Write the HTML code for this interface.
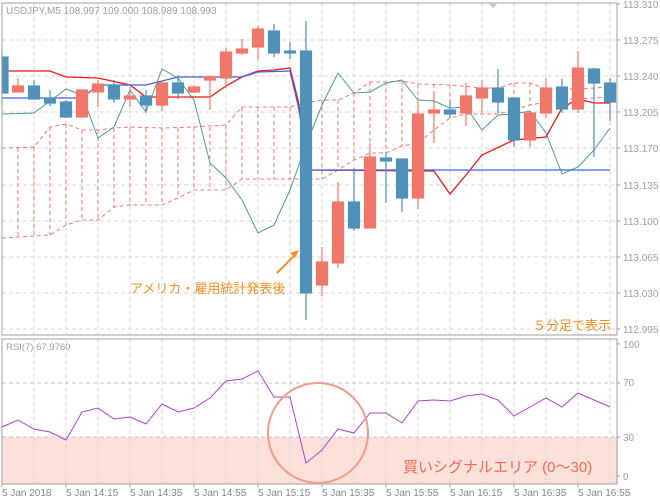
<!DOCTYPE html>
<html><head><meta charset="utf-8"><style>
html,body{margin:0;padding:0;background:#fff;}
svg{display:block;font-family:"Liberation Sans","Noto Sans CJK JP",sans-serif;}
</style></head><body>
<svg width="660" height="500" viewBox="0 0 660 500" xmlns="http://www.w3.org/2000/svg">
<rect width="660" height="500" fill="#fff"/>
<!-- RSI pink area -->
<rect x="2" y="437" width="616" height="47" fill="#FCE1DB"/>
<!-- grids -->
<g stroke="#d8d8d8" stroke-width="1" stroke-dasharray="4,3" fill="none">
<path d="M2 40H617M2 76H617M2 112H617M2 148H617M2 185H617M2 221H617M2 257H617M2 293H617M2 329H617"/>
<path d="M34 3V335M66 3V335M98 3V335M130 3V335M162 3V335M194 3V335M226 3V335M258 3V335M290 3V335M322 3V335M354 3V335M386 3V335M418 3V335M450 3V335M482 3V335M514 3V335M546 3V335M578 3V335M610 3V335"/>
<path d="M34 339V484M66 339V484M98 339V484M130 339V484M162 339V484M194 339V484M226 339V484M258 339V484M290 339V484M322 339V484M354 339V484M386 339V484M418 339V484M450 339V484M482 339V484M514 339V484M546 339V484M578 339V484M610 339V484"/>
</g>
<g stroke="#c8c8c8" stroke-dasharray="4,3"><path d="M2 383H617M2 437H617"/></g>
<!-- cloud -->
<g stroke="#F07B73" stroke-width="1" stroke-dasharray="4,3" fill="none">
<polyline points="2,148 34,147 50,127 66,124 82,130 98,130 114,128 130,127 162,128 194,127 226,125 242,107 290,107 306,103 322,100 338,100 354,93 370,82 386,82 402,81 418,84 450,85 482,88 498,88 514,83 530,83 546,89 578,89 594,88 610,87"/>
<polyline points="2,238 34,236 50,235 66,225 82,220 98,220 114,207 130,205 162,205 178,198 194,190 226,190 242,179 322,179 338,170 354,160 370,153 386,153 402,146 418,143 434,130 450,118 466,114 498,114 514,110 530,105 546,102 578,99 610,97"/>
<path d="M2 148V238M18 148V237M34 147V236M50 127V235M66 124V225M82 130V220M98 130V220M114 128V207M130 127V205M146 128V205M162 128V205M178 128V198M194 127V190M210 127V190M226 125V190M242 107V179M258 107V179M274 107V179M290 107V179M306 103V179M322 100V179M338 100V170M354 93V160M370 82V153M386 82V153M402 81V146M418 84V143M434 84V130M450 85V118M466 86V114M482 88V114M498 88V114M514 83V110M530 83V105M546 89V102M562 89V100M578 89V99M594 88V98M610 87V97"/>
</g>
<!-- teal line -->
<polyline fill="none" stroke="#4E9A9A" stroke-width="1" points="2,114 34,113 66,89 82,95 98,138 114,127 130,90 146,112 162,69 178,78 194,100 210,163 226,178 242,200 258,233 274,225 290,190 306,145 322,105 338,73 354,93 370,92 386,83 402,80 418,100 434,101 450,108 466,107 482,130 498,115 514,114 530,111 546,133 562,174 578,167 594,150 610,128"/>
<!-- red line -->
<polyline fill="none" stroke="#F01818" stroke-width="1.3" points="2,71 50,71 66,77 98,78 130,85 146,97 210,97 226,86 242,77 258,71 274,70 290,68 298,100 306,150 310,170 434,171 450,194 466,175 482,155 514,140 546,137 562,108 578,99 594,103 610,103"/>
<!-- blue line -->
<polyline fill="none" stroke="#3C64E0" stroke-width="1.3" points="2,98 82,98 98,85 146,85 178,77 242,77 258,72 290,71 298,105 306,150 310,170 610,170"/>
<!-- candles -->
<g stroke-width="1.2">
<g stroke="#5091B9" fill="#5091B9">
<line x1="2" y1="50" x2="2" y2="105"/><rect x="2" y="57" width="6" height="36"/>
<line x1="34" y1="80" x2="34" y2="99"/><rect x="28.5" y="86" width="11" height="13"/>
<line x1="50" y1="90" x2="50" y2="106"/><rect x="44.5" y="98" width="11" height="5"/>
<line x1="66" y1="100" x2="66" y2="118"/><rect x="60.5" y="102" width="11" height="15"/>
<line x1="114" y1="80" x2="114" y2="103"/><rect x="108.5" y="85" width="11" height="14"/>
<line x1="146" y1="90" x2="146" y2="113"/><rect x="140.5" y="96" width="11" height="9"/>
<line x1="178" y1="75" x2="178" y2="99"/><rect x="172.5" y="83" width="11" height="10"/>
<line x1="274" y1="24" x2="274" y2="57"/><rect x="268.5" y="31" width="11" height="22"/>
<line x1="290" y1="42" x2="290" y2="59"/><rect x="284.5" y="51" width="11" height="2"/>
<line x1="306" y1="21" x2="306" y2="320"/><rect x="300.5" y="51" width="11" height="242"/>
<line x1="354" y1="168" x2="354" y2="231"/><rect x="348.5" y="202" width="11" height="26"/>
<line x1="386" y1="152" x2="386" y2="203"/><rect x="380.5" y="158" width="11" height="3"/>
<line x1="402" y1="159" x2="402" y2="212"/><rect x="396.5" y="159" width="11" height="39"/>
<line x1="450" y1="100" x2="450" y2="118"/><rect x="444.5" y="110" width="11" height="4"/>
<line x1="498" y1="69" x2="498" y2="113"/><rect x="492.5" y="88" width="11" height="14"/>
<line x1="514" y1="98" x2="514" y2="147"/><rect x="508.5" y="98" width="11" height="42"/>
<line x1="562" y1="79" x2="562" y2="113"/><rect x="556.5" y="87" width="11" height="22"/>
<line x1="594" y1="68" x2="594" y2="157"/><rect x="588.5" y="69" width="11" height="14"/>
<line x1="610" y1="78" x2="610" y2="121"/><rect x="604.5" y="83" width="11" height="19"/>
</g>
<g stroke="#F0786A" fill="#F0786A">
<line x1="18" y1="78" x2="18" y2="92"/><rect x="12.5" y="86" width="11" height="6"/>
<line x1="82" y1="90" x2="82" y2="118"/><rect x="76.5" y="90" width="11" height="27"/>
<line x1="98" y1="80" x2="98" y2="107"/><rect x="92.5" y="84" width="11" height="8"/>
<line x1="130" y1="87" x2="130" y2="107"/><rect x="124.5" y="96" width="11" height="3"/>
<line x1="162" y1="80" x2="162" y2="111"/><rect x="156.5" y="83" width="11" height="22"/>
<line x1="194" y1="85" x2="194" y2="93"/><rect x="188.5" y="87" width="11" height="5"/>
<line x1="210" y1="75" x2="210" y2="110"/><rect x="204.5" y="77" width="11" height="3"/>
<line x1="226" y1="48" x2="226" y2="88"/><rect x="220.5" y="52" width="11" height="26"/>
<line x1="242" y1="39" x2="242" y2="55"/><rect x="236.5" y="49" width="11" height="4"/>
<line x1="258" y1="26" x2="258" y2="60"/><rect x="252.5" y="29" width="11" height="18"/>
<line x1="322" y1="247" x2="322" y2="296"/><rect x="316.5" y="262" width="11" height="23"/>
<line x1="338" y1="182" x2="338" y2="268"/><rect x="332.5" y="202" width="11" height="61"/>
<line x1="370" y1="143" x2="370" y2="228"/><rect x="364.5" y="157" width="11" height="71"/>
<line x1="418" y1="102" x2="418" y2="209"/><rect x="412.5" y="114" width="11" height="84"/>
<line x1="434" y1="92" x2="434" y2="143"/><rect x="428.5" y="110" width="11" height="3"/>
<line x1="466" y1="83" x2="466" y2="126"/><rect x="460.5" y="96" width="11" height="17"/>
<line x1="482" y1="80" x2="482" y2="113"/><rect x="476.5" y="88" width="11" height="10"/>
<line x1="530" y1="112" x2="530" y2="147"/><rect x="524.5" y="113" width="11" height="27"/>
<line x1="546" y1="78" x2="546" y2="118"/><rect x="540.5" y="88" width="11" height="25"/>
<line x1="578" y1="51" x2="578" y2="113"/><rect x="572.5" y="68" width="11" height="41"/>
</g>
</g>
<!-- borders -->
<rect x="2" y="3" width="615" height="332" fill="none" stroke="#a0a0a0"/>
<rect x="2" y="339" width="615" height="145" fill="none" stroke="#a0a0a0"/>
<path d="M489 4l4 4 4-4z" fill="#c8c8c8"/>
<!-- annotations -->
<text x="6" y="14" font-size="10" fill="#a0a0a0">USDJPY,M5  108.997 109.000 108.989 108.993</text>
<text x="6" y="350" font-size="9.5" fill="#a0a0a0">RSI(7) 67.9760</text>
<line x1="277" y1="273" x2="296" y2="254" stroke="#F39020" stroke-width="2"/>
<path d="M299 250l-9 3 5 5z" fill="#F39020"/>
<text x="130" y="293" font-size="13" fill="#F39020">アメリカ・雇用統計発表後</text>
<text x="533" y="330" font-size="13" fill="#F39020">５分足で表示</text>
<!-- RSI -->
<polyline fill="none" stroke="#B040D0" stroke-width="1" points="2,427 18,420 34,429 50,432 66,440 82,412 98,408 114,419 130,417 146,424 162,404 178,412 194,408 210,398 226,381 242,379 258,371 274,397 290,397 306,463 322,450 338,429 354,433 370,413 386,413 402,423 418,401 434,400 450,401 466,396 482,394 498,400 514,416 530,407 546,398 562,407 578,393 594,400 610,407"/>
<circle cx="318" cy="433" r="50" fill="none" stroke="#F29A8A" stroke-width="2"/>
<text x="403" y="472" font-size="15" fill="#EE6A55">買いシグナルエリア (0〜30)</text>
<!-- right axis -->
<g font-size="10" fill="#a0a0a0">
<text x="623" y="8">113.310</text><text x="623" y="44">113.275</text><text x="623" y="80">113.240</text><text x="623" y="116">113.205</text><text x="623" y="152">113.170</text><text x="623" y="189">113.135</text><text x="623" y="225">113.100</text><text x="623" y="261">113.065</text><text x="623" y="297">113.030</text><text x="623" y="333">112.995</text>
<text x="623" y="348">100</text><text x="623" y="386">70</text><text x="623" y="441">30</text><text x="623" y="480">0</text>
</g>
<g stroke="#a0a0a0"><path d="M617 4h3M617 40h3M617 76h3M617 112h3M617 148h3M617 185h3M617 221h3M617 257h3M617 293h3M617 329h3M617 344h3M617 383h3M617 437h3M617 476h3"/>
<path d="M2 484v3M66 484v3M130 484v3M194 484v3M258 484v3M322 484v3M386 484v3M450 484v3M514 484v3M578 484v3"/></g>
<g font-size="10" fill="#888">
<text x="2" y="496">5 Jan 2018</text><text x="66" y="496">5 Jan 14:15</text><text x="130" y="496">5 Jan 14:35</text><text x="194" y="496">5 Jan 14:55</text><text x="258" y="496">5 Jan 15:15</text><text x="322" y="496">5 Jan 15:35</text><text x="386" y="496">5 Jan 15:55</text><text x="450" y="496">5 Jan 16:15</text><text x="514" y="496">5 Jan 16:35</text><text x="578" y="496">5 Jan 16:55</text>
</g>
</svg>
</body></html>
